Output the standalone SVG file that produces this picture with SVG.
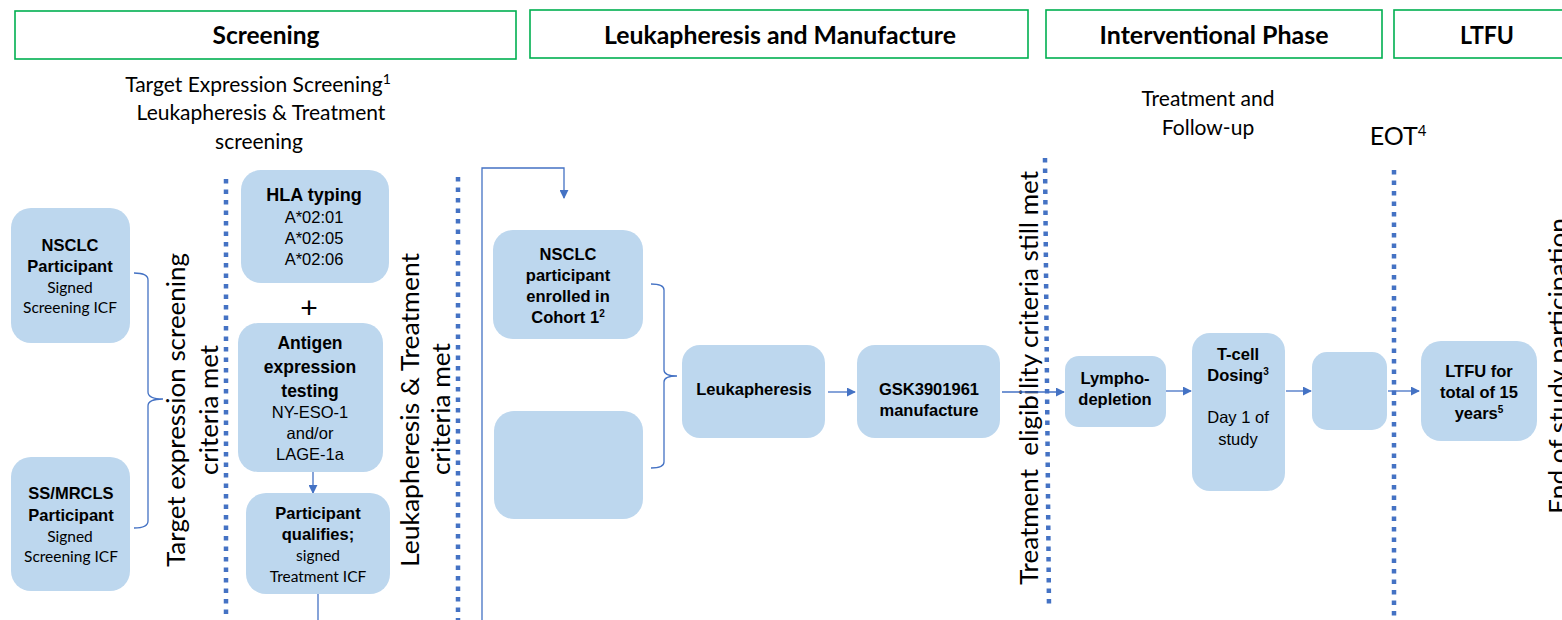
<svg xmlns="http://www.w3.org/2000/svg" width="1562" height="620" viewBox="0 0 1562 620">
<style>
.hdr{fill:#fff;stroke:#00B050;stroke-width:1.6}
.ht{font-family:Lato,"Liberation Sans",sans-serif;font-weight:bold;font-size:25px;fill:#000;text-anchor:middle}
.sub{font-family:Lato,"Liberation Sans",sans-serif;font-size:21px;fill:#000;text-anchor:middle}
.eot{font-family:Lato,"Liberation Sans",sans-serif;font-size:25px;fill:#000;text-anchor:middle}
.rot{font-family:Lato,"Liberation Sans",sans-serif;font-size:25px;fill:#000;text-anchor:middle}
.box{fill:#BDD7EE}
.b{font-family:"Liberation Sans",Arial,sans-serif;font-weight:bold;font-size:16.5px;fill:#000;text-anchor:middle}
.bl{font-family:"Liberation Sans",Arial,sans-serif;font-weight:bold;font-size:17.5px;fill:#000;text-anchor:middle}
.hla{font-family:"Liberation Sans",Arial,sans-serif;font-weight:bold;font-size:18px;fill:#000;text-anchor:middle}
.plus{font-family:"Liberation Sans",Arial,sans-serif;font-size:30px;fill:#000;text-anchor:middle}
.r{font-family:"Liberation Sans",Arial,sans-serif;font-size:16.5px;fill:#000;text-anchor:middle}
.c{font-family:Lato,"Liberation Sans",sans-serif;font-size:15.5px;fill:#000;text-anchor:middle}
.dot{stroke:#4472C4;stroke-width:4.5;stroke-dasharray:4.5 6;fill:none}
.ln{stroke:#4472C4;stroke-width:1.3;fill:none}
.ar{stroke:#4472C4;stroke-width:1.3;fill:none;marker-end:url(#ah)}
</style>
<defs>
<marker id="ah" viewBox="0 0 10 10" refX="9" refY="5" markerWidth="9" markerHeight="9" markerUnits="userSpaceOnUse" orient="auto">
<path d="M0,0 L10,5 L0,10 Z" fill="#4472C4"/>
</marker>
</defs>
<rect width="1562" height="620" fill="#fff"/>

<g id="headers">
<rect class="hdr" x="15" y="11" width="501" height="48"/>
<text class="ht" x="266" y="44" textLength="107" lengthAdjust="spacingAndGlyphs">Screening</text>
<rect class="hdr" x="530" y="10" width="498" height="48"/>
<text class="ht" x="780" y="44" textLength="352" lengthAdjust="spacingAndGlyphs">Leukapheresis and Manufacture</text>
<rect class="hdr" x="1046" y="10" width="336" height="48"/>
<text class="ht" x="1214" y="44" textLength="229" lengthAdjust="spacingAndGlyphs">Interventional Phase</text>
<rect class="hdr" x="1394" y="10" width="190" height="48"/>
<text class="ht" x="1487" y="44" textLength="54" lengthAdjust="spacingAndGlyphs">LTFU</text>
</g>

<g id="phase-labels">
<text class="sub" x="258" y="92">Target Expression Screening<tspan dy="-8" font-size="14">1</tspan></text>
<text class="sub" x="261" y="120">Leukapheresis &amp; Treatment</text>
<text class="sub" x="259" y="149">screening</text>
<text class="sub" x="1208" y="106">Treatment and</text>
<text class="sub" x="1208" y="135">Follow-up</text>
<text class="eot" x="1398" y="145">EOT<tspan dy="-9" font-size="15">4</tspan></text>
</g>

<g id="milestones">
<line class="dot" x1="226" y1="179" x2="226" y2="616"/>
<line class="dot" x1="458" y1="177" x2="458" y2="620"/>
<line class="dot" x1="1045" y1="158" x2="1049" y2="608"/>
<line class="dot" x1="1394" y1="170" x2="1394" y2="620"/>
<text class="rot" transform="translate(185,410) rotate(-90)" textLength="314" lengthAdjust="spacingAndGlyphs">Target expression screening</text>
<text class="rot" transform="translate(218,410) rotate(-90)" textLength="130" lengthAdjust="spacingAndGlyphs">criteria met</text>
<text class="rot" transform="translate(419,410) rotate(-90)" textLength="314" lengthAdjust="spacingAndGlyphs">Leukapheresis &amp; Treatment</text>
<text class="rot" transform="translate(450,409) rotate(-90)" textLength="132" lengthAdjust="spacingAndGlyphs">criteria met</text>
<text class="rot" xml:space="preserve" transform="translate(1038,378) rotate(-90)" textLength="414" lengthAdjust="spacingAndGlyphs">Treatment  eligibility criteria still met</text>
<text class="rot" transform="translate(1567,366) rotate(-90)" textLength="296" lengthAdjust="spacingAndGlyphs">End of study participation</text>
</g>

<g id="connectors">
<path class="ln" d="M134,273 Q148,273 148,280 L148,392 Q148,399 163,399 Q148,399 148,406 L148,521 Q148,528 134,528"/>
<path class="ln" d="M651,284 Q664,284 664,290 L664,370 Q664,376 677,376 Q664,376 664,382 L664,462 Q664,468 651,468"/>
<line class="ar" x1="313" y1="472" x2="313" y2="493"/>
<line class="ln" x1="318" y1="594" x2="318" y2="620"/>
<polyline class="ar" points="482,620 482,168 564,168 564,198"/>
<line class="ar" x1="828" y1="392" x2="855" y2="392"/>
<line class="ar" x1="1002" y1="392" x2="1064" y2="392"/>
<line class="ar" x1="1166" y1="391" x2="1191" y2="391"/>
<line class="ar" x1="1286" y1="391" x2="1311" y2="391"/>
<line class="ar" x1="1388" y1="391" x2="1419" y2="391"/>
</g>

<g id="nsclc-participant">
<rect class="box" x="11" y="208" width="119" height="135" rx="20"/>
<text class="b" x="70" y="251">NSCLC</text>
<text class="b" x="70" y="272">Participant</text>
<text class="c" x="70" y="293">Signed</text>
<text class="c" x="70" y="313">Screening ICF</text>
</g>

<g id="ssmrcls-participant">
<rect class="box" x="11" y="457" width="119" height="134" rx="20"/>
<text class="b" x="71" y="499">SS/MRCLS</text>
<text class="b" x="71" y="521">Participant</text>
<text class="c" x="70" y="542">Signed</text>
<text class="c" x="71" y="562">Screening ICF</text>
</g>

<g id="hla-typing">
<rect class="box" x="241" y="170" width="148" height="113" rx="20"/>
<text class="hla" x="314" y="201">HLA typing</text>
<text class="r" x="314" y="223">A*02:01</text>
<text class="r" x="314" y="244">A*02:05</text>
<text class="r" x="314" y="265">A*02:06</text>
</g>

<g id="plus">
<text class="plus" x="309" y="318">+</text>
</g>

<g id="antigen-testing">
<rect class="box" x="238" y="323" width="145" height="149" rx="20"/>
<text class="bl" x="310" y="349">Antigen</text>
<text class="bl" x="310" y="373">expression</text>
<text class="bl" x="310" y="397">testing</text>
<text class="r" x="310" y="418">NY-ESO-1</text>
<text class="r" x="310" y="439">and/or</text>
<text class="r" x="310" y="460">LAGE-1a</text>
</g>

<g id="participant-qualifies">
<rect class="box" x="246" y="493" width="144" height="101" rx="20"/>
<text class="b" x="318" y="519">Participant</text>
<text class="b" x="318" y="540">qualifies;</text>
<text class="c" x="318" y="561">signed</text>
<text class="c" x="318" y="582">Treatment ICF</text>
</g>

<g id="nsclc-cohort1">
<rect class="box" x="493" y="230" width="150" height="109" rx="20"/>
<text class="b" x="568" y="260">NSCLC</text>
<text class="b" x="568" y="281">participant</text>
<text class="b" x="568" y="302">enrolled in</text>
<text class="b" x="568" y="323">Cohort 1<tspan dy="-6" font-size="10">2</tspan></text>
</g>

<g id="empty-cohort">
<rect class="box" x="494" y="411" width="149" height="108" rx="20"/>
</g>

<g id="leukapheresis">
<rect class="box" x="682" y="345" width="143" height="93" rx="18"/>
<text class="b" x="754" y="395">Leukapheresis</text>
</g>

<g id="manufacture">
<rect class="box" x="857" y="345" width="143" height="93" rx="18"/>
<text class="b" x="929" y="395">GSK3901961</text>
<text class="b" x="929" y="416">manufacture</text>
</g>

<g id="lymphodepletion">
<rect class="box" x="1065" y="356" width="101" height="71" rx="14"/>
<text class="b" x="1115" y="384">Lympho-</text>
<text class="b" x="1115" y="405">depletion</text>
</g>

<g id="tcell-dosing">
<rect class="box" x="1192" y="333" width="93" height="158" rx="18"/>
<text class="b" x="1238" y="360">T-cell</text>
<text class="b" x="1238" y="381">Dosing<tspan dy="-6" font-size="10">3</tspan></text>
<text class="r" x="1238" y="423">Day 1 of</text>
<text class="r" x="1238" y="445">study</text>
</g>

<g id="empty-step">
<rect class="box" x="1312" y="352" width="75" height="78" rx="15"/>
</g>

<g id="ltfu">
<rect class="box" x="1421" y="341" width="116" height="100" rx="20"/>
<text class="b" x="1479" y="377">LTFU for</text>
<text class="b" x="1479" y="398">total of 15</text>
<text class="b" x="1479" y="419">years<tspan dy="-6" font-size="10">5</tspan></text>
</g>
</svg>
